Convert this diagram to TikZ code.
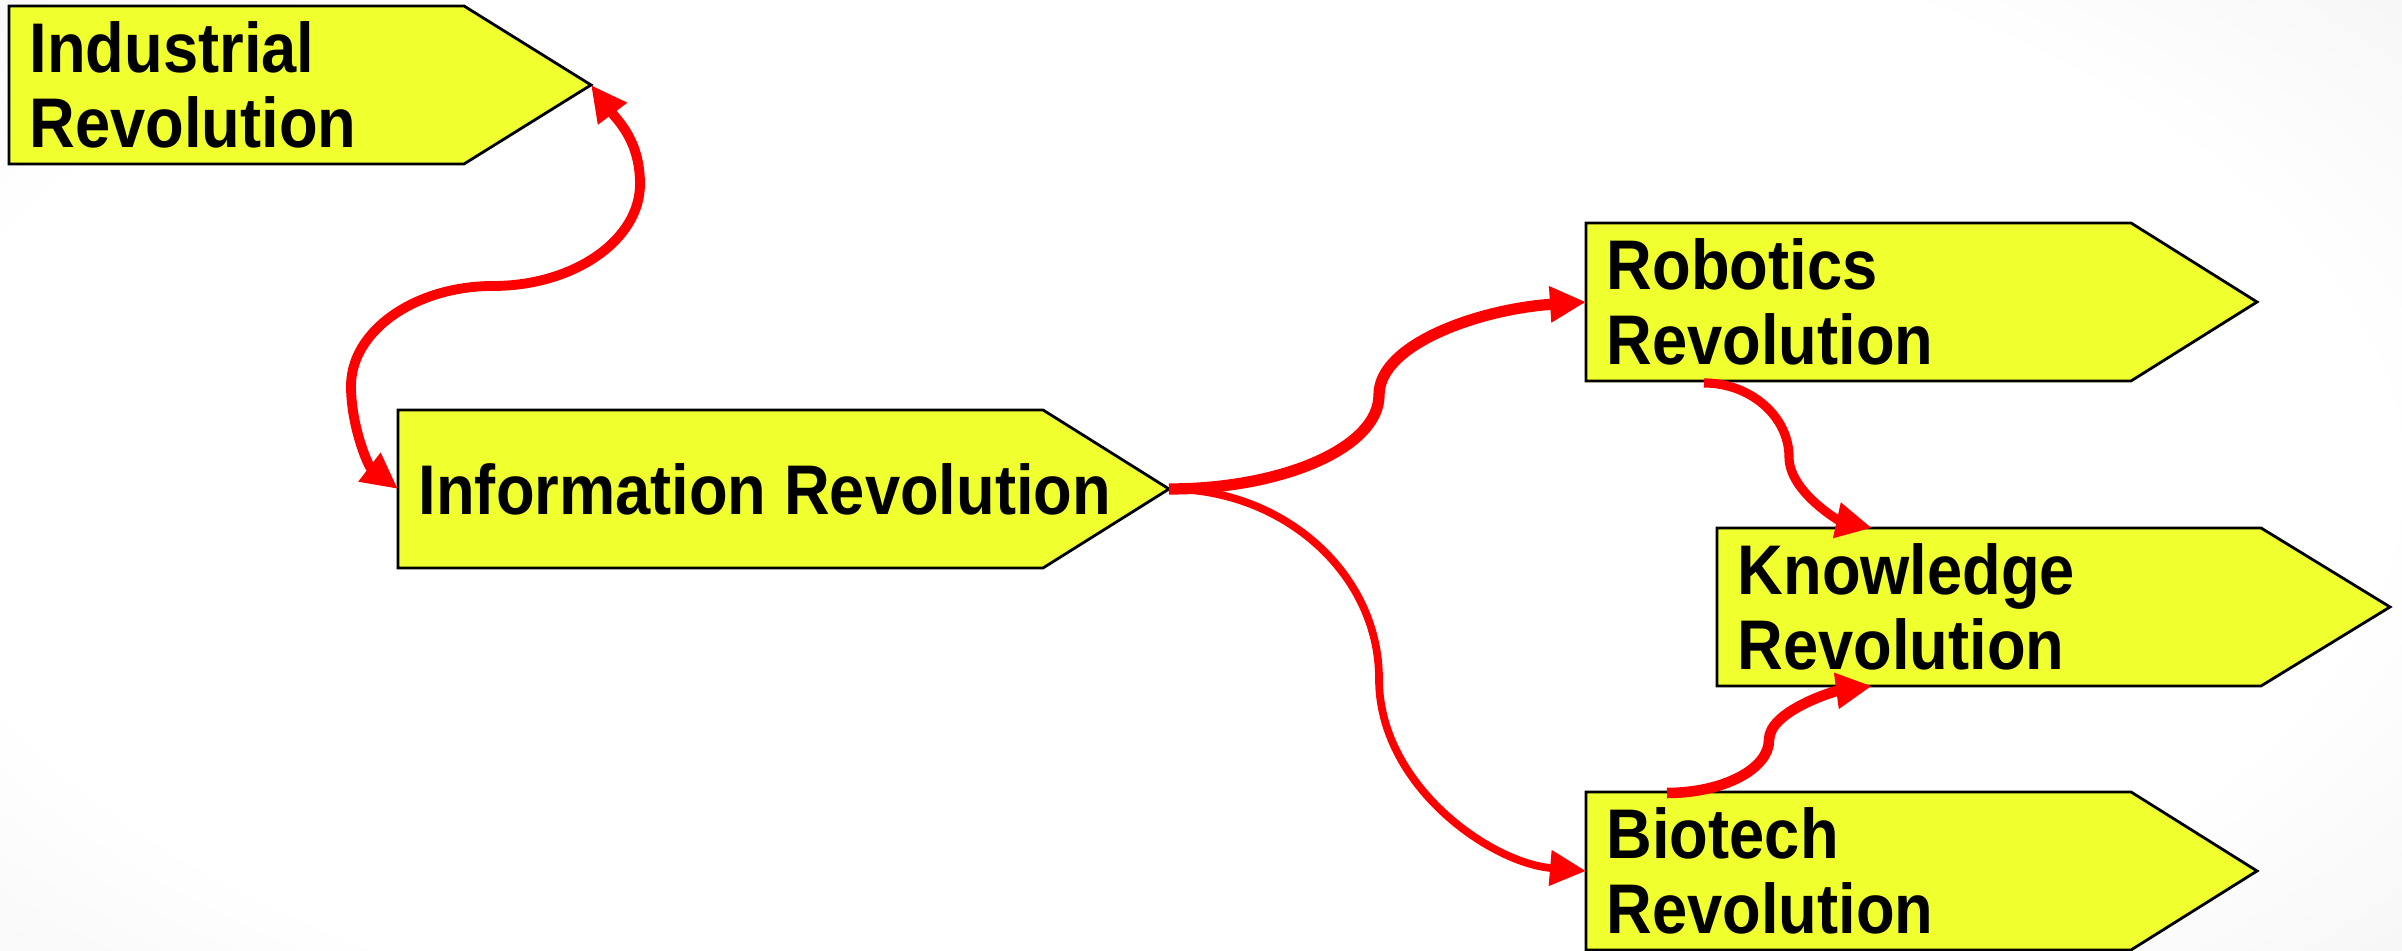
\documentclass[tikz,border=0pt]{standalone}
\usepackage{fontspec}
\setmainfont{Liberation Sans}[FakeStretch=0.9]
\usetikzlibrary{arrows.meta,calc}
\definecolor{boxyellow}{RGB}{240,255,46}
\definecolor{conred}{RGB}{255,0,0}
\pgfdeclareradialshading{bgshade}{\pgfpoint{0bp}{0bp}}{color(0bp)=(white); color(22bp)=(white); color(52bp)=(black!15); color(100bp)=(black!18)}
\tikzset{
  boxshape/.style={fill=boxyellow, draw=black, line width=0.8pt, line join=miter},
  boxlabel/.style={font=\bfseries\fontsize{20}{21.5}\selectfont, align=left, inner sep=0pt, anchor=west},
  redtip/.tip={Triangle[length=0.36cm,width=0.34cm]},
  conn/.style={draw=conred, line width=2.8pt, -redtip},
}
\newcommand\revbox[6]{%
  \path[boxshape] (#2,#3) -- (#4,#3) -- (#5,#3+0.79) -- (#4,#3+1.58) -- (#2,#3+1.58) -- cycle;
  \node[boxlabel] (#1) at (#2+0.2,#3+0.79) {#6};
}
\begin{document}
\begin{tikzpicture}
\useasboundingbox (0,0) rectangle (24.02,9.51);
\begin{scope}
  \clip (0,0) rectangle (24.02,9.51);
  \shade[shading=bgshade] (-2.5,-2) rectangle (25.5,11.5);
\end{scope}

\revbox{ind}{0.09}{7.87}{4.64}{5.91}{Industrial\\Revolution}
\revbox{info}{3.98}{3.83}{10.43}{11.69}{Information Revolution}
\revbox{rob}{15.86}{5.70}{21.31}{22.57}{Robotics\\Revolution}
\revbox{know}{17.17}{2.65}{22.61}{23.90}{Knowledge\\Revolution}
\revbox{bio}{15.86}{0.01}{21.31}{22.57}{Biotech\\Revolution}

\coordinate (indTip) at (5.91,8.66);
\coordinate (infoW) at (3.98,4.62);
\coordinate (infoTip) at (11.69,4.62);
\coordinate (robW) at (15.86,6.49);
\coordinate (robS) at (17.04,5.68);
\coordinate (knowN) at (18.72,4.23);
\coordinate (knowS) at (18.72,2.65);
\coordinate (bioW) at (15.86,0.80);
\coordinate (bioN) at (16.67,1.58);

\draw[conn, redtip-redtip] (indTip)
  .. controls (6.18,8.30) and (6.40,8.10) .. (6.40,7.67)
  .. controls (6.40,7.11) and (5.74,6.65) .. (4.93,6.65)
  .. controls (4.15,6.65) and (3.51,6.20) .. (3.51,5.65)
  .. controls (3.51,5.25) and (3.68,4.85) .. (infoW);

\draw[conn, line width=3.2pt] (infoTip)
  .. controls (12.84,4.62) and (13.79,5.04) .. (13.79,5.56)
  .. controls (13.79,6.07) and (14.80,6.42) .. (robW);

\draw[conn, line width=2.2pt] (infoTip)
  .. controls (12.84,4.62) and (13.79,3.77) .. (13.79,2.72)
  .. controls (13.79,1.66) and (14.90,0.88) .. (bioW);

\draw[conn, line width=2.6pt] (robS)
  .. controls (17.51,5.68) and (17.89,5.34) .. (17.89,4.94)
  .. controls (17.89,4.59) and (18.40,4.30) .. (knowN);

\draw[conn, line width=3pt] (bioN)
  .. controls (17.23,1.58) and (17.69,1.82) .. (17.69,2.11)
  .. controls (17.69,2.40) and (18.35,2.60) .. (knowS);
\end{tikzpicture}
\end{document}
